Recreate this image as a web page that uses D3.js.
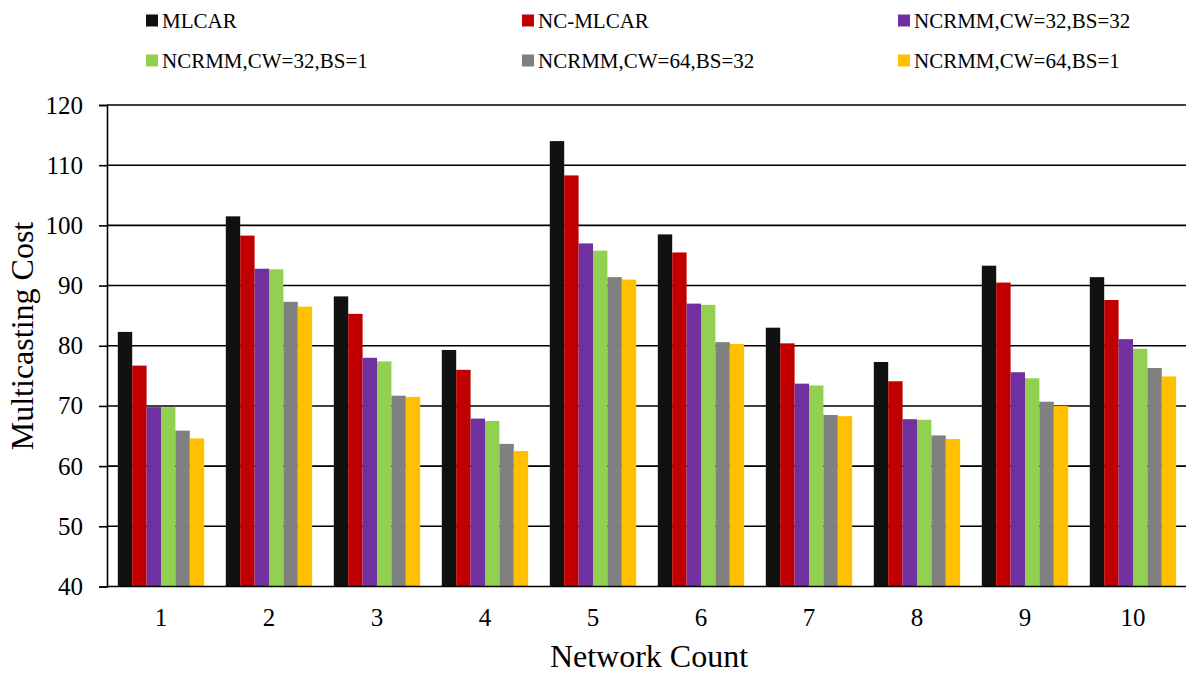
<!DOCTYPE html>
<html>
<head>
<meta charset="utf-8">
<script src="https://cdn.jsdelivr.net/npm/d3@7"></script>
<style>
  html, body { margin: 0; padding: 0; background: #ffffff; }
  svg { display: block; }
  svg text { font-family: "Liberation Serif", "Times New Roman", serif; fill: #000; }
</style>
</head>
<body>
<svg id="chart" width="1186" height="675"></svg>
<script>
// Network counts along the x axis
const categories = ["1", "2", "3", "4", "5", "6", "7", "8", "9", "10"];

// Series names and colours
const seriesNames = [
  "MLCAR",
  "NC-MLCAR",
  "NCRMM,CW=32,BS=32",
  "NCRMM,CW=32,BS=1",
  "NCRMM,CW=64,BS=32",
  "NCRMM,CW=64,BS=1"
];
const seriesColors = ["#111111", "#c00000", "#7030a0", "#92d050", "#808080", "#ffc000"];

// Multicasting cost per series, one value per network count
const mlcar      = [82.3, 101.5, 88.2, 79.3, 114.0, 98.5, 83.0, 77.3, 93.3, 91.4];
const ncMlcar    = [76.7, 98.3, 85.3, 76.0, 108.3, 95.5, 80.4, 74.1, 90.5, 87.6];
const cw32bs32   = [69.8, 92.8, 78.0, 67.9, 97.0, 87.0, 73.7, 67.8, 75.6, 81.1];
const cw32bs1    = [69.8, 92.7, 77.4, 67.5, 95.8, 86.8, 73.4, 67.7, 74.6, 79.5];
const cw64bs32   = [65.9, 87.3, 71.7, 63.7, 91.4, 80.6, 68.5, 65.1, 70.7, 76.3];
const cw64bs1    = [64.6, 86.5, 71.5, 62.5, 91.0, 80.3, 68.3, 64.5, 70.0, 74.9];

const seriesValues = [mlcar, ncMlcar, cw32bs32, cw32bs1, cw64bs32, cw64bs1];

// Y axis ticks
const yTicks = [40, 50, 60, 70, 80, 90, 100, 110, 120];

const FONT = '"Liberation Serif", "Times New Roman", serif';
const svg = d3.select("#chart");
const W = 1186;
const plot = { left: 107, right: 1187, top: 105, bottom: 586.5 };

const x = d3.scaleBand()
  .domain(categories)
  .range([plot.left, plot.right])
  .paddingInner(0.2)
  .paddingOuter(0.1);

const xInner = d3.scaleBand()
  .domain(seriesNames)
  .range([0, x.bandwidth()])
  .padding(0);

const y = d3.scaleLinear()
  .domain([40, 120])
  .range([plot.bottom, plot.top]);

// Horizontal gridlines
svg.append("g")
  .selectAll("line")
  .data(yTicks.filter(t => t > 40))
  .join("line")
  .attr("x1", plot.left)
  .attr("x2", W)
  .attr("y1", d => y(d))
  .attr("y2", d => y(d))
  .attr("stroke", "#000")
  .attr("stroke-width", 1.6);

// Y axis with outward ticks
const yAxis = svg.append("g")
  .attr("transform", `translate(${plot.left},0)`)
  .call(d3.axisLeft(y).tickValues(yTicks).tickSize(8).tickPadding(16));
yAxis.attr("font-family", null);
yAxis.select(".domain").attr("stroke", "#000").attr("stroke-width", 1.6);
yAxis.selectAll(".tick line").attr("stroke", "#000").attr("stroke-width", 1.6);
yAxis.selectAll(".tick text")
  .style("font-family", FONT)
  .style("font-size", "25px");

// Bars
const groups = svg.append("g")
  .selectAll("g")
  .data(categories)
  .join("g")
  .attr("transform", d => `translate(${x(d)},0)`);

groups.selectAll("rect")
  .data((c, ci) => seriesNames.map((s, si) => ({ s, si, v: seriesValues[si][ci] })))
  .join("rect")
  .attr("x", d => xInner(d.s))
  .attr("width", xInner.bandwidth())
  .attr("y", d => y(d.v))
  .attr("height", d => y(40) - y(d.v))
  .attr("fill", d => seriesColors[d.si]);

// Bottom axis line and category labels
const xAxis = svg.append("g")
  .attr("transform", `translate(0,${plot.bottom})`)
  .call(d3.axisBottom(x).tickSize(0).tickPadding(22));
xAxis.attr("font-family", null);
xAxis.select(".domain").attr("stroke", "#000").attr("stroke-width", 1.6)
  .attr("d", `M${plot.left},0H${W}`);
xAxis.selectAll(".tick text")
  .style("font-family", FONT)
  .style("font-size", "25px");

// Axis titles
svg.append("text")
  .attr("x", 649)
  .attr("y", 667)
  .attr("text-anchor", "middle")
  .style("font-family", FONT)
  .style("font-size", "32px")
  .text("Network Count");

svg.append("text")
  .attr("transform", `translate(33,336) rotate(-90)`)
  .attr("text-anchor", "middle")
  .style("font-family", FONT)
  .style("font-size", "32px")
  .text("Multicasting Cost");

// Legend, two rows of three
const legendCols = [146, 522, 898];
const legendRows = [20.5, 60.5];
const legend = svg.append("g")
  .selectAll("g")
  .data(seriesNames)
  .join("g")
  .attr("transform", (d, i) => `translate(${legendCols[i % 3]},${legendRows[Math.floor(i / 3)]})`);
legend.append("rect")
  .attr("x", 0).attr("y", -6)
  .attr("width", 12).attr("height", 12)
  .attr("fill", (d, i) => seriesColors[i]);
legend.append("text")
  .attr("x", 16)
  .attr("y", 7)
  .style("font-family", FONT)
  .style("font-size", "21px")
  .text(d => d);
</script>
</body>
</html>
